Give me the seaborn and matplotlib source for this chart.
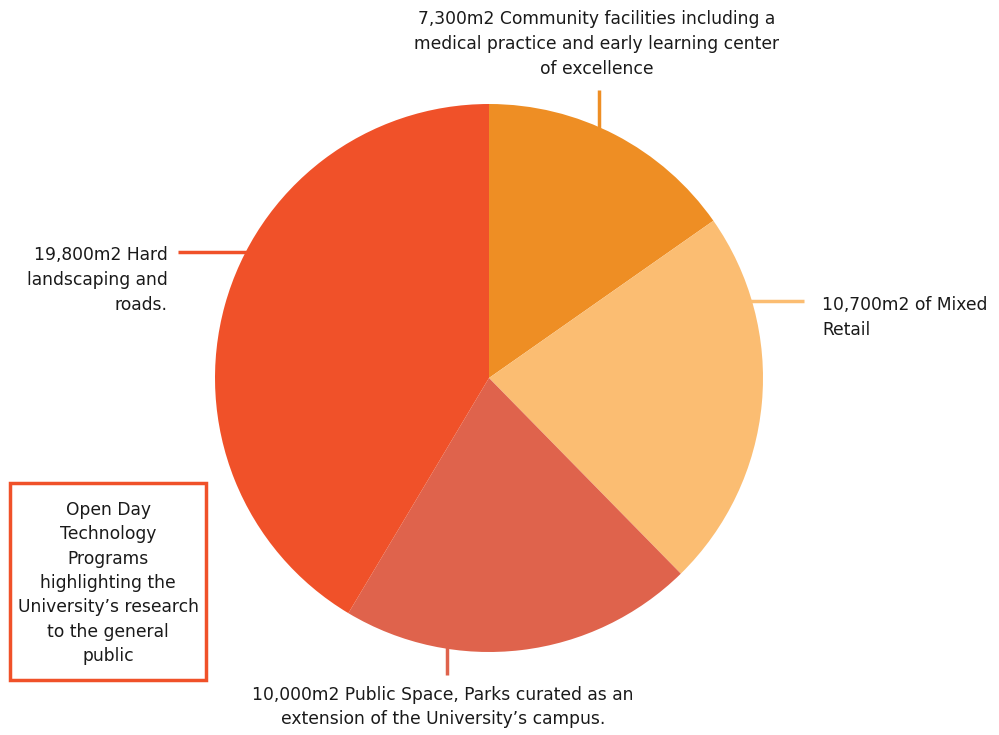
import numpy as np
import matplotlib
matplotlib.use("Agg")
import matplotlib.pyplot as plt
import seaborn as sns

# Floor areas (m2) per land use
categories = ["Community facilities", "Mixed Retail", "Public Space", "Hard landscaping"]
areas = [7300, 10700, 10000, 19800]
colors = ["#EE8E24", "#FBBD72", "#DF634C", "#F05129"]

labels = [
    "7,300m2 Community facilities including a\nmedical practice and early learning center\nof excellence",
    "10,700m2 of Mixed\nRetail",
    "10,000m2 Public Space, Parks curated as an\nextension of the University\u2019s campus.",
    "19,800m2 Hard\nlandscaping and\nroads.",
]
note = ("Open Day\nTechnology\nPrograms\nhighlighting the\nUniversity\u2019s research\n"
        "to the general\npublic")

sns.set_theme(style="white")
plt.rcParams["font.family"] = ["DejaVu Sans"]

W, H = 999, 735
fig = plt.figure(figsize=(W / 100, H / 100), dpi=100)
ax = fig.add_axes([0, 0, 1, 1])
ax.set_xlim(0, W)
ax.set_ylim(0, H)
ax.set_aspect("equal")
ax.axis("off")

cx, cy, r = 489, H - 378, 274
ax.pie(areas, colors=colors, startangle=90, counterclock=False,
       center=(cx, cy), radius=r, frame=True,
       wedgeprops=dict(linewidth=0))
ax.set_xlim(0, W)
ax.set_ylim(0, H)
ax.axis("off")

fs = 12.3
txt = dict(fontsize=fs, color="#1a1a1a", linespacing=1.5)

def edge_y(x):
    return cy + np.sqrt(r**2 - (x - cx) ** 2)

def edge_x(y, side):
    return cx + side * np.sqrt(r**2 - (y - cy) ** 2)

# Community facilities: vertical leader up from the top edge
x0 = 599
ax.plot([x0, x0], [edge_y(x0) - 3, H - 90], color=colors[0], lw=2.5, solid_capstyle="butt")
ax.text(597, H - 44, labels[0], ha="center", va="center", **txt)

# Mixed retail: horizontal leader to the right
y1 = H - 301
ax.plot([edge_x(y1, 1) - 3, 804], [y1, y1], color=colors[1], lw=2.5, solid_capstyle="butt")
ax.text(822, H - 317, labels[1], ha="left", va="center", **txt)

# Public space: vertical leader down from the bottom edge
x2 = 447
ax.plot([x2, x2], [cy - np.sqrt(r**2 - (x2 - cx) ** 2) + 3, H - 675],
        color=colors[2], lw=2.5, solid_capstyle="butt")
ax.text(443, H - 707, labels[2], ha="center", va="center", **txt)

# Hard landscaping: horizontal leader to the left
y3 = H - 252
ax.plot([178, edge_x(y3, -1) + 3], [y3, y3], color=colors[3], lw=2.5, solid_capstyle="butt")
ax.text(168, H - 280, labels[3], ha="right", va="center", **txt)

# Boxed note
ax.add_patch(plt.Rectangle((10, H - 680), 196, 197, fill=False,
                           edgecolor="#F05129", lw=2.5))
ax.text(108, H - 583, note, ha="center", va="center", fontsize=fs,
        color="#1a1a1a", linespacing=1.45)

fig.savefig("out.png", dpi=100, facecolor="white")
